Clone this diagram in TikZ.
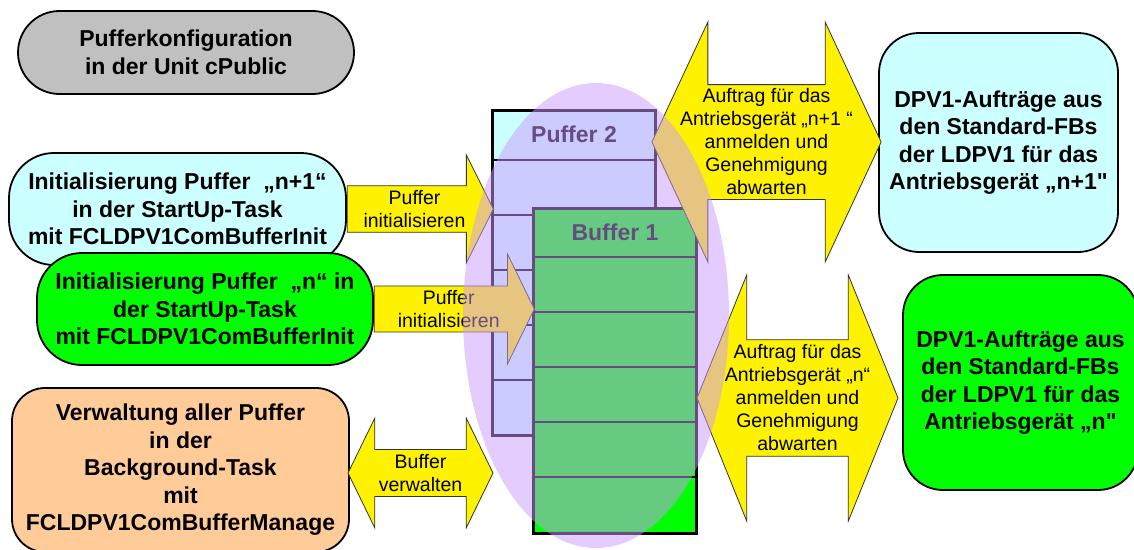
\documentclass[tikz,border=0pt]{standalone}
\usepackage{fontspec}
\setmainfont{Liberation Sans}[Ligatures=TeXOff]
\usepackage{tikz}
\usetikzlibrary{shapes}
\usetikzlibrary{shapes.arrows}
\usetikzlibrary{shapes.geometric}
\usetikzlibrary{calc}
\definecolor{konfig-grau}{HTML}{C0C0C0}
\definecolor{puffer-cyan}{HTML}{CCFFFF}
\definecolor{puffer-gruen}{HTML}{00FF00}
\definecolor{verwaltung-orange}{HTML}{FFCC99}
\definecolor{gruppe-lila}{HTML}{CC99FF}
\newcommand{\kastenschrift}{\fontsize{23}{27.5}\selectfont\bfseries}
\newcommand{\pfeilschrift}{\fontsize{19.5}{23}\selectfont}

\begin{document}
\begin{tikzpicture}[x=1pt, y=-1pt,
  kasten/.style={draw, line width=1.8pt, align=center, font=\kastenschrift, inner sep=0pt},
  beschriftung/.style={inner sep=2pt, align=center, font=\kastenschrift},
  pfeil/.style={draw=black!80, line width=.8pt, fill=yellow, align=center, font=\pfeilschrift, inner sep=1pt},
  speicher/.style={draw, line width=3pt, inner sep=0pt}]
\useasboundingbox (0, 0) rectangle (1134, 549);
\pgfmathsetmacro{\zeile}{55}
% Kaesten links
\node[kasten, fill=konfig-grau, rounded corners=41.5, minimum width=336, minimum height=83]
  (konfig)
  at (186, 52.5)
  {Pufferkonfiguration\\in der Unit cPublic};
\node[kasten, fill=puffer-cyan, rounded corners=45, minimum width=337, minimum height=112]
  (init-n1)
  at (177.5, 209)
  {Initialisierung Puffer \ „n+1“\\in der StartUp-Task\\mit FCLDPV1ComBufferInit};
\node[kasten, fill=puffer-gruen, rounded corners=45, minimum width=336, minimum height=112]
  (init-n)
  at (205, 309)
  {Initialisierung Puffer \ „n“ in\\der StartUp-Task\\mit FCLDPV1ComBufferInit};
\node[kasten, fill=verwaltung-orange, rounded corners=33, minimum width=337, minimum height=164]
  (verwaltung)
  at (180.5, 470)
  {Verwaltung aller Puffer\\in der\\Background-Task\\mit\\FCLDPV1ComBufferManage};
% Kaesten rechts
\node[kasten, fill=puffer-cyan, rounded corners=40, minimum width=239, minimum height=219]
  (dpv-n1)
  at (998.5, 142.5)
  {DPV1-Aufträge aus\\den Standard-FBs\\der LDPV1 für das\\Antriebsgerät „n+1"};
\node[kasten, fill=puffer-gruen, rounded corners=40, minimum width=235, minimum height=215]
  (dpv-n)
  at (1020.5, 382.5)
  {DPV1-Aufträge aus\\den Standard-FBs\\der LDPV1 für das\\Antriebsgerät „n"};
% Puffer
\foreach \name/\titel/\links/\oben/\kopf/\farbe in {
    puffer2/Puffer 2/491/109/51/puffer-cyan,
    buffer1/Buffer 1/532/207/50/puffer-gruen} {
  \node[speicher, fill=\farbe, minimum width=163, minimum height=325, anchor=north west]
    (\name)
    at (\links, \oben)
    {};
  \node[beschriftung]
    (\name-titel)
    at ($(\name.north)+(0, \kopf/2)$)
    {\titel};
  \foreach \k in {0,...,4}
    \draw[line width=1.5pt] ($(\name.north west)+(0, \kopf+\k*\zeile)$)
      -- ($(\name.north east)+(0, \kopf+\k*\zeile)$);
}
% Pfeile
\node[pfeil, single arrow, single arrow tip angle=127, single arrow head extend=26.5,
    minimum height=146, minimum width=108, anchor=tail]
  (pfeil-init-n1)
  at (init-n1.east)
  {Puffer\\initialisieren};
\node[pfeil, single arrow, single arrow tip angle=128, single arrow head extend=28,
    minimum height=160, minimum width=110, anchor=tail]
  (pfeil-init-n)
  at (init-n.east)
  {Puffer\\initialisieren};
\node[pfeil, double arrow, double arrow tip angle=128, double arrow head extend=27,
    minimum height=145, minimum width=110]
  (pfeil-verwalten)
  at (420.5, 473)
  {Buffer\\verwalten};
\node[pfeil, double arrow, double arrow tip angle=130, double arrow head extend=59.5,
    minimum height=223, minimum width=240]
  (pfeil-dpv-n1)
  at (766.5, 142)
  {Auftrag für das\\Antriebsgerät „n+1 “\\anmelden und\\Genehmigung\\abwarten};
\node[pfeil, double arrow, double arrow tip angle=136, double arrow head extend=60.5,
    minimum height=201, minimum width=246]
  (pfeil-dpv-n)
  at (797.5, 398)
  {Auftrag für das\\Antriebsgerät „n“\\anmelden und\\Genehmigung\\abwarten};
% Gruppe
\node[ellipse, fill=gruppe-lila, fill opacity=.5, inner sep=0pt, minimum width=266, minimum height=465]
  (gruppe)
  at (596, 315.5)
  {};
\end{tikzpicture}
\end{document}
